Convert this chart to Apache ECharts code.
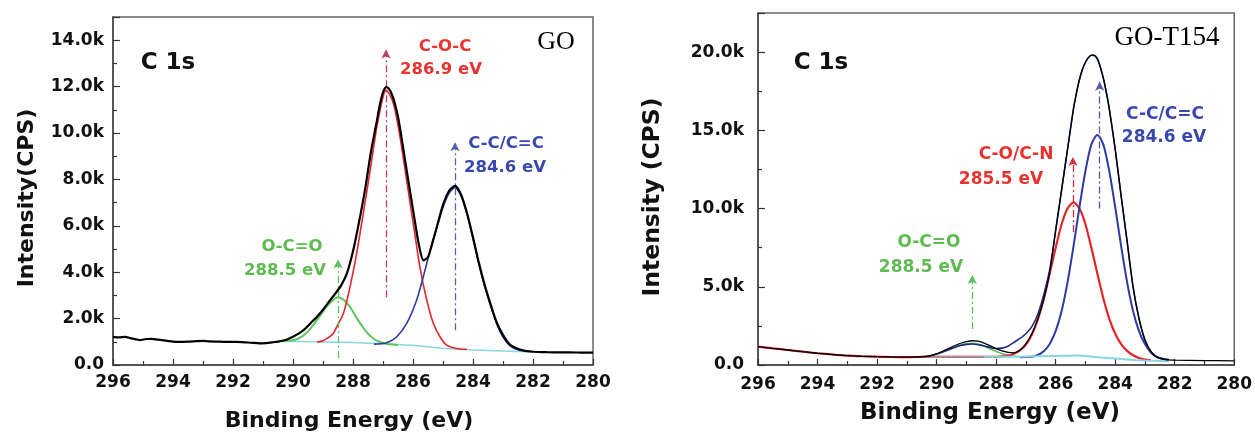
<!DOCTYPE html>
<html>
<head>
<meta charset="utf-8">
<script src="https://cdn.jsdelivr.net/npm/echarts@6/dist/echarts.min.js"></script>
<style>
html,body{margin:0;padding:0;background:#fff;}
#c{width:1255px;height:434px;}
</style>
</head>
<body>
<div id="c"></div>
<script>
// ---------- GO panel (left) : [binding energy eV, intensity CPS] ----------
const goEnvelope = [[296,1216],[295.8,1190],[295.6,1210],[295.4,1150],[295.2,1100],[295.1,1073],[294.9,1120],[294.7,1130],[294.5,1090],[294.2,1043],[294,1010],[293.8,1000],[293.5,1010],[293.2,1030],[293,1040],[292.8,1020],[292.6,1010],[292.3,1000],[292,995],[291.7,990],[291.4,960],[291.1,930],[290.9,945],[290.7,975],[290.5,1010],[290.2,1100],[290,1220],[289.8,1360],[289.6,1560],[289.4,1820],[289.2,2080],[289,2380],[288.8,2730],[288.6,3060],[288.4,3420],[288.2,3960],[288,4900],[287.8,6150],[287.6,7550],[287.4,9200],[287.2,10550],[287.1,11250],[287,11750],[286.9,11980],[286.8,11900],[286.7,11650],[286.6,11250],[286.5,10700],[286.4,9950],[286.2,8300],[286,6700],[285.8,5150],[285.65,4510],[285.5,4650],[285.4,5050],[285.2,5980],[285,6900],[284.8,7500],[284.6,7720],[284.4,7350],[284.2,6550],[284,5500],[283.8,4380],[283.6,3400],[283.4,2560],[283.2,1800],[283,1300],[282.8,920],[282.6,750],[282.4,650],[282.2,595],[282,570],[281.6,555],[281.2,540],[280.8,545],[280.4,535],[280,530]];
const goCOC = [[289.2,990],[289,1050],[288.8,1200],[288.66,1360],[288.5,1750],[288.32,2220],[288.1,3360],[287.88,4796],[287.66,6513],[287.43,8373],[287.21,10233],[287,11550],[286.9,11850],[286.66,11300],[286.43,9800],[286.21,7944],[285.99,6084],[285.77,4220],[285.54,2791],[285.32,1790],[285.1,1216],[284.88,859],[284.54,715],[284.2,680]];
const goCC = [[287.3,900],[287,930],[286.8,1000],[286.54,1216],[286.21,1790],[285.88,2791],[285.66,3790],[285.43,4938],[285.21,5900],[285,6800],[284.8,7400],[284.6,7650],[284.4,7300],[284.2,6500],[284,5450],[283.8,4330],[283.6,3350],[283.4,2500],[283.2,1750],[283,1200],[282.8,870],[282.6,700],[282.4,620]];
const goOCO = [[290.4,1020],[290.1,1040],[289.9,1100],[289.7,1230],[289.5,1450],[289.3,1760],[289.1,2120],[288.9,2480],[288.7,2760],[288.5,2920],[288.3,2800],[288.1,2500],[287.9,2080],[287.7,1680],[287.5,1350],[287.3,1120],[287.1,990],[286.9,920],[286.7,880],[286.5,860]];
const goBackground = [[290.3,1020],[289.5,1000],[288.5,985],[287.5,940],[286.5,880],[286,850],[285,720],[284,650],[283,600],[282,570]];
// arrows: [energy, from, to]
const goArrows = [[286.9,2920,13600],[284.6,1500,9600],[288.5,300,4550]];

// ---------- GO-T154 panel (right) ----------
const t154Envelope = [[296,1170],[295.5,1060],[295,960],[294.5,850],[294,750],[293.5,670],[293,600],[292.5,560],[292,530],[291.5,510],[291,500],[290.6,510],[290.4,540],[290.2,600],[290,720],[289.8,880],[289.6,1050],[289.4,1230],[289.2,1390],[289,1500],[288.8,1550],[288.6,1520],[288.4,1400],[288.2,1220],[288,1050],[287.8,900],[287.6,810],[287.4,780],[287.2,950],[287,1350],[286.8,2000],[286.6,2950],[286.4,4200],[286.2,5900],[286,8600],[285.8,11200],[285.6,13800],[285.4,16400],[285.3,17400],[285.2,18250],[285.1,18900],[285,19350],[284.9,19650],[284.8,19800],[284.7,19780],[284.6,19550],[284.5,19050],[284.4,18350],[284.3,17450],[284.2,16400],[284,13800],[283.8,10800],[283.6,7900],[283.4,5000],[283.2,2970],[283,1600],[282.8,860],[282.6,500],[282.4,380],[282.2,330],[282,310],[281,280],[280,270]];
const t154Fit = [[290.4,530],[290.2,590],[290,700],[289.8,830],[289.6,980],[289.4,1120],[289.2,1240],[289,1320],[288.8,1340],[288.6,1300],[288.4,1220],[288.2,1120],[288,1050],[287.8,1080],[287.6,1200],[287.4,1450],[287.2,1700],[287,2000],[286.8,2450],[286.6,3250],[286.4,4500],[286.2,6100],[286,8600],[285.8,11200],[285.6,13800],[285.4,16400],[285.3,17400],[285.2,18250],[285.1,18900],[285,19350],[284.9,19650],[284.8,19800],[284.7,19800],[284.6,19600],[284.5,19050],[284.4,18350],[284.3,17450],[284.2,16400],[284,13800],[283.8,10800],[283.6,7900],[283.4,5000],[283.2,2970],[283,1600],[282.8,860],[282.6,500],[282.4,380],[282.2,330]];
const t154CON = [[296,1170],[295.5,1060],[295,960],[294.5,850],[294,750],[293.5,670],[293,600],[292.5,560],[292,530],[291.5,510],[291,500],[290.6,510],[290.4,530],[290,527],[289,524],[288.4,520],[288,525],[287.6,600],[287.4,720],[287.2,930],[287,1300],[286.8,1950],[286.6,2900],[286.4,4200],[286.2,5850],[286,7500],[285.8,9000],[285.6,10000],[285.4,10400],[285.2,10000],[285,9000],[284.8,7500],[284.6,5850],[284.4,4270],[284.2,2970],[284,2000],[283.8,1340],[283.6,900],[283.4,620],[283.2,450],[283,350],[282.8,300]];
const t154CC = [[287.2,500],[287,510],[286.8,530],[286.6,640],[286.4,880],[286.2,1340],[286,2160],[285.8,3450],[285.6,5300],[285.4,7600],[285.2,10100],[285,12400],[284.8,14100],[284.6,14700],[284.4,14100],[284.2,12400],[284,10100],[283.8,7600],[283.6,5300],[283.4,3450],[283.2,2160],[283,1340],[282.8,800],[282.6,520],[282.4,400],[282.2,340]];
const t154OCO = [[290.4,540],[290.2,580],[290,680],[289.8,820],[289.6,980],[289.4,1140],[289.2,1270],[289,1350],[288.8,1380],[288.6,1330],[288.4,1200],[288.2,1020],[288,860],[287.8,720],[287.6,620],[287.4,560],[287.2,540]];
const t154BaseGray = [[290.4,530],[288.4,520]];
const t154BaseCyan = [[288.4,520],[287,540],[286,580],[285.3,610],[284.5,480],[283.5,340],[283,290],[282.2,240]];
const t154Arrows = [[285.42,8500,13300],[284.52,10000,18100],[288.8,2300,5750]];

// axis settings
const xMin = 280, xMax = 296, xStep = 2;
const goYMax = 15000, goYStep = 2000;
const t154YMax = 22500, t154YStep = 5000;

const RED='#e3262b', BLUE='#2f3aa2', GREEN='#5cc45a', CYAN='#88d6e2', NAVY='#1e2a86';
const FONT='DejaVu Sans';

function kFmt(step){
  return function(v){
    if (v === 0) return '0.0';
    if (Math.abs(v % step) > 1e-6) return '';
    return (v/1000).toFixed(1) + 'k';
  };
}
function xAxisCfg(idx, margin){
  return {
    gridIndex: idx, type:'value', min:xMin, max:xMax, interval:xStep, inverse:true,
    axisLine:{show:true, onZero:false, lineStyle:{color:'#444', width:1.5}},
    axisTick:{show:true, inside:true, length:6, lineStyle:{color:'#333', width:1.2}},
    minorTick:{show:true, splitNumber:2, length:4, lineStyle:{color:'#333', width:1.2}},
    splitLine:{show:false},
    axisLabel:{color:'#111', fontFamily:FONT, fontWeight:'bold', fontSize:17, margin:margin}
  };
}
function yAxisCfg(idx, max, step, margin){
  return {
    gridIndex: idx, type:'value', min:0, max:max, interval:step,
    axisLine:{show:true, lineStyle:{color:'#444', width:1.5}},
    axisTick:{show:true, inside:true, length:7, lineStyle:{color:'#333', width:1.2}},
    minorTick:{show:true, splitNumber:2, length:4, lineStyle:{color:'#333', width:1.2}},
    splitLine:{show:false},
    axisLabel:{color:'#111', fontFamily:FONT, fontWeight:'bold', fontSize:17, margin:margin, formatter:kFmt(step)}
  };
}
function line(idx, data, color, width, z){
  return {type:'line', xAxisIndex:idx, yAxisIndex:idx, data:data, showSymbol:false, smooth:0.25,
    lineStyle:{color:color, width:width}, z:z||2, silent:true};
}
function arrows(idx, arr, colors){
  return {type:'line', xAxisIndex:idx, yAxisIndex:idx, data:[], silent:true, z:1,
    markLine:{silent:true, symbol:['none','arrow'], symbolSize:[7,9], label:{show:false},
      data: arr.map(function(a,i){
        return [{coord:[a[0],a[1]], lineStyle:{color:colors[i], width:1.3, type:[7,3,2,3]}},{coord:[a[0],a[2]]}];
      })}};
}
function txt(x,y,s,color,size,opts){
  opts = opts||{};
  return {type:'text', x:x, y:y, rotation:opts.rot||0, z:10,
    style:{text:s, fill:color, font:(opts.weight||'bold')+' '+size+'px '+(opts.family||FONT), align:'center', verticalAlign:'middle'}};
}

const chart = echarts.init(document.getElementById('c'), null, {renderer:'canvas'});
chart.setOption({
  animation:false,
  backgroundColor:'#fff',
  grid:[
    {left:113, top:17, width:480, height:348, show:true, borderColor:'#666', borderWidth:1.5, backgroundColor:'transparent'},
    {left:758, top:13, width:480, height:352, show:true, borderColor:'#666', borderWidth:1.5, backgroundColor:'transparent'}
  ],
  xAxis:[xAxisCfg(0,9), xAxisCfg(1,11)],
  yAxis:[yAxisCfg(0,goYMax,goYStep,9), yAxisCfg(1,t154YMax,t154YStep,14)],
  series:[
    line(0, goBackground, CYAN, 1.5, 2),
    line(0, goOCO, GREEN, 2, 3),
    line(0, goCOC, RED, 1.6, 3),
    line(0, goCC, BLUE, 1.6, 3),
    line(0, goEnvelope, '#000', 2.2, 5),
    arrows(0, goArrows, ['#b8405a','#5a60aa','#5cc05a']),
    line(1, t154OCO, GREEN, 1.6, 3),
    line(1, t154CON, RED, 2.2, 3),
    line(1, t154CC, BLUE, 2, 3),
    line(1, t154BaseGray, '#9a9a9a', 1.8, 4),
    line(1, t154BaseCyan, CYAN, 2, 4),
    line(1, t154Fit, NAVY, 1.6, 4),
    line(1, t154Envelope, '#000', 1.3, 5),
    arrows(1, t154Arrows, ['#d03040','#5058a8','#5cc05a'])
  ],
  graphic:[
    txt(27,198,'Intensity(CPS)','#111',22,{rot:Math.PI/2}),
    txt(349,421,'Binding Energy (eV)','#111',22),
    txt(168,63,'C 1s','#111',23),
    txt(556,42,'GO','#000',26,{weight:'normal', family:'Liberation Serif'}),
    txt(445,47,'C-O-C','#e8332e',16.5),
    txt(441,70,'286.9 eV','#e8332e',16.5),
    txt(506,144,'C-C/C=C','#3a48ac',16.5),
    txt(505,168,'284.6 eV','#3a48ac',16.5),
    txt(292,247,'O-C=O','#5dbb4f',16.5),
    txt(285,271,'288.5 eV','#5dbb4f',16.5),

    txt(653,197,'Intensity (CPS)','#111',23.5,{rot:Math.PI/2}),
    txt(990,413,'Binding Energy (eV)','#111',23),
    txt(821,63,'C 1s','#111',23),
    txt(1167,38,'GO-T154','#000',27,{weight:'normal', family:'Liberation Serif'}),
    txt(1016,155,'C-O/C-N','#e8332e',17),
    txt(1001,180,'285.5 eV','#e8332e',17),
    txt(1165,115,'C-C/C=C','#3a48ac',17),
    txt(1164,138,'284.6 eV','#3a48ac',17),
    txt(929,243,'O-C=O','#5dbb4f',17),
    txt(921,268,'288.5 eV','#5dbb4f',17)
  ]
});
</script>
</body>
</html>
